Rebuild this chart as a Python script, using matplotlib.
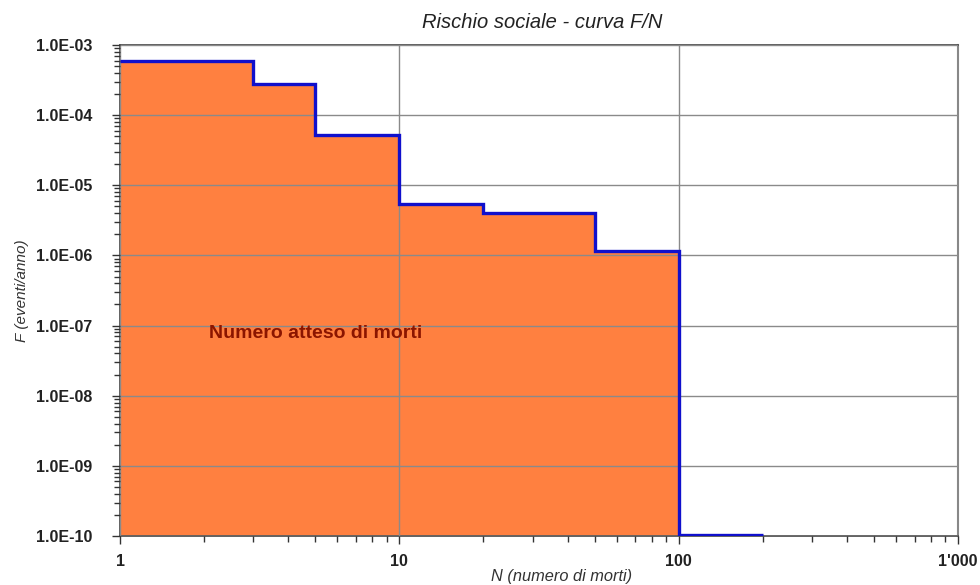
import matplotlib
matplotlib.use("Agg")
import matplotlib.pyplot as plt
from matplotlib.ticker import FixedLocator, FixedFormatter, LogLocator, NullFormatter

plt.rcParams['font.family'] = ['Liberation Sans', 'DejaVu Sans']

# Data
N_edges = [1, 3, 5, 10, 20, 50, 100, 200]
F_values = [5.9e-4, 2.78e-4, 5.2e-5, 5.4e-6, 4.0e-6, 1.16e-6, 1.05e-10]
n_filled = 6  # steps filled in orange (up to N=100)

x_ticks = [1, 10, 100, 1000]
x_tick_labels = ["1", "10", "100", "1'000"]
y_ticks = [1e-10, 1e-9, 1e-8, 1e-7, 1e-6, 1e-5, 1e-4, 1e-3]
y_tick_labels = ["1.0E-10", "1.0E-09", "1.0E-08", "1.0E-07", "1.0E-06", "1.0E-05", "1.0E-04", "1.0E-03"]

title = "Rischio sociale - curva F/N"
x_label = "N (numero di morti)"
y_label = "F (eventi/anno)"
annotation = "Numero atteso di morti"

fig = plt.figure(figsize=(9.8, 5.85), dpi=100)
ax = fig.add_axes([120/980, 1-536/585, (958-120)/980, (536-45)/585])

ax.set_xscale('log')
ax.set_yscale('log')
ax.set_xlim(1, 1000)
ax.set_ylim(1e-10, 1e-3)

ax.stairs(F_values[:n_filled], N_edges[:n_filled+1], baseline=1e-10, fill=True,
          color='#FF8040', zorder=1, linewidth=0)
ax.stairs(F_values, N_edges, baseline=None, color='#1010CC', linewidth=2.4, zorder=3)

ax.set_axisbelow(False)
ax.grid(True, which='major', color='#8a8a8a', linewidth=1.0, zorder=2)

ax.xaxis.set_major_locator(FixedLocator(x_ticks))
ax.xaxis.set_major_formatter(FixedFormatter(x_tick_labels))
ax.xaxis.set_minor_locator(LogLocator(base=10, subs=range(2, 10), numticks=20))
ax.xaxis.set_minor_formatter(NullFormatter())
ax.yaxis.set_major_locator(FixedLocator(y_ticks))
ax.yaxis.set_major_formatter(FixedFormatter(y_tick_labels))
ax.yaxis.set_minor_locator(LogLocator(base=10, subs=range(2, 10), numticks=20))
ax.yaxis.set_minor_formatter(NullFormatter())

ax.tick_params(axis='both', which='major', direction='out', length=6, width=1,
               color='#333333', labelsize=11.5)
ax.tick_params(axis='y', which='major', pad=14)
ax.tick_params(axis='x', which='major', pad=7)
ax.tick_params(axis='both', which='minor', direction='out', length=4, width=1, color='#333333')
for lab in ax.get_xticklabels() + ax.get_yticklabels():
    lab.set_fontweight('bold')
    lab.set_color('#222222')

for side in ['left', 'bottom', 'top']:
    ax.spines[side].set_color('#555555')
    ax.spines[side].set_linewidth(1.3)
ax.spines['right'].set_color('#888888')
ax.spines['right'].set_linewidth(1.5)

ax.set_title(title, fontstyle='italic', fontsize=14.5, color='#222222', pad=12, x=0.504)
ax.set_xlabel(x_label, fontstyle='italic', fontsize=11.8, color='#333333', labelpad=0, x=0.527)
ax.set_ylabel(y_label, fontstyle='italic', fontsize=11, color='#333333', labelpad=5)

ax.text(2.08, 7.7e-8, annotation, color='#8B1500', fontsize=14, fontweight='bold',
        ha='left', va='center', zorder=4)

fig.savefig('out.png', dpi=100, facecolor='white')
